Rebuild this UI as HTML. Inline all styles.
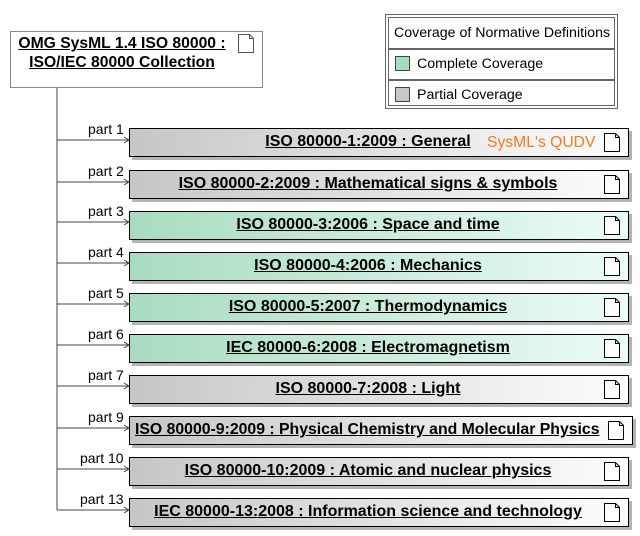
<!DOCTYPE html>
<html><head><meta charset="utf-8"><style>
body{margin:0;width:640px;height:536px;background:#fff;position:relative;overflow:hidden;font-family:"Liberation Sans",Arial,sans-serif;}
.b{position:absolute;box-sizing:border-box;border:1px solid #000;height:29px;box-shadow:3px 3px 0 #b4b4b4;}
.g{background:linear-gradient(to right,#c6c6c6,#fdfdfd);}
.c{background:linear-gradient(to right,#a8dcbf,#ebfcf9);}
.t{position:absolute;top:4px;font-weight:bold;font-size:16px;text-decoration:underline;white-space:nowrap;color:#000;}
.p{position:absolute;font-size:14px;color:#000;}
.ic{position:absolute;width:16px;height:19px;}
</style></head><body>
<svg width="640" height="536" style="position:absolute;left:0;top:0">
<line x1="57" y1="87" x2="57" y2="510" stroke="#444" stroke-width="1"/>
<g stroke="#444" stroke-width="1" fill="none">
<path d="M57 140H129M124 137L129 140L124 143"/>
<path d="M57 182H129M124 179L129 182L124 185"/>
<path d="M57 222H129M124 219L129 222L124 225"/>
<path d="M57 263H129M124 260L129 263L124 266"/>
<path d="M57 304H129M124 301L129 304L124 307"/>
<path d="M57 345H129M124 342L129 345L124 348"/>
<path d="M57 386H129M124 383L129 386L124 389"/>
<path d="M57 428H129M124 425L129 428L124 431"/>
<path d="M57 469H129M124 466L129 469L124 472"/>
<path d="M57 510H129M124 507L129 510L124 513"/>
</g>
</svg>
<div style="position:absolute;left:10px;top:31px;width:253px;height:57px;box-sizing:border-box;border:1px solid #888;background:#fff;"></div>
<div style="position:absolute;left:12px;top:34px;width:220px;text-align:center;font-weight:bold;font-size:15.7px;line-height:19px;text-decoration:underline;white-space:nowrap;">OMG SysML 1.4 ISO 80000 :<br>ISO/IEC 80000 Collection</div>
<svg class="ic" style="left:238px;top:34px" viewBox="0 0 16 19"><path d="M0.5 0.5H11.5L15.5 4.5V18.5H0.5Z" fill="#fff" stroke="#555"/><path d="M11.5 0.5V4.5H15.5" fill="none" stroke="#555"/></svg>

<div style="position:absolute;left:385px;top:14px;width:233px;height:95px;box-sizing:border-box;border:1px solid #666;padding:2px;">
<div style="border:1px solid #666;height:89px;box-sizing:border-box;font-size:14.2px;white-space:nowrap;">
<div style="height:30px;line-height:30px;padding-left:5px;border-bottom:2px solid #666;">Coverage of Normative Definitions</div>
<div style="height:29px;line-height:29px;padding-left:6px;border-bottom:2px solid #666;"><span style="display:inline-block;width:13px;height:13px;background:#a8dcbf;border:1px solid #444;vertical-align:-3px;margin-right:7px"></span>Complete Coverage</div>
<div style="height:26px;line-height:28px;padding-left:6px;"><span style="display:inline-block;width:13px;height:13px;background:#c8c8c8;border:1px solid #444;vertical-align:-3px;margin-right:7px"></span>Partial Coverage</div>
</div></div>

<div class="p" style="left:88px;top:121px">part 1</div>
<div class="p" style="left:88px;top:163px">part 2</div>
<div class="p" style="left:88px;top:203px">part 3</div>
<div class="p" style="left:88px;top:244px">part 4</div>
<div class="p" style="left:88px;top:285px">part 5</div>
<div class="p" style="left:88px;top:326px">part 6</div>
<div class="p" style="left:88px;top:367px">part 7</div>
<div class="p" style="left:88px;top:409px">part 9</div>
<div class="p" style="left:80px;top:450px">part 10</div>
<div class="p" style="left:80px;top:491px">part 13</div>

<div class="b g" style="left:129px;top:128px;width:500px"><div class="t" style="left:0;width:476px;text-align:center">ISO 80000-1:2009 : General</div><div style="position:absolute;left:357px;top:5px;font-size:15.7px;color:#f77a1e;">SysML's QUDV</div></div>
<div class="b g" style="left:129px;top:170px;width:500px"><div class="t" style="left:0;width:476px;text-align:center">ISO 80000-2:2009 : Mathematical signs &amp; symbols</div></div>
<div class="b c" style="left:129px;top:211px;width:500px"><div class="t" style="left:0;width:476px;text-align:center">ISO 80000-3:2006 : Space and time</div></div>
<div class="b c" style="left:129px;top:252px;width:500px"><div class="t" style="left:0;width:476px;text-align:center">ISO 80000-4:2006 : Mechanics</div></div>
<div class="b c" style="left:129px;top:293px;width:500px"><div class="t" style="left:0;width:476px;text-align:center">ISO 80000-5:2007 : Thermodynamics</div></div>
<div class="b c" style="left:129px;top:334px;width:500px"><div class="t" style="left:0;width:476px;text-align:center">IEC 80000-6:2008 : Electromagnetism</div></div>
<div class="b g" style="left:129px;top:375px;width:500px"><div class="t" style="left:0;width:476px;text-align:center">ISO 80000-7:2008 : Light</div></div>
<div class="b g" style="left:129px;top:416px;width:504px"><div class="t" style="left:5px;font-size:15.8px">ISO 80000-9:2009 : Physical Chemistry and Molecular Physics</div></div>
<div class="b g" style="left:129px;top:457px;width:500px"><div class="t" style="left:0;width:476px;text-align:center">ISO 80000-10:2009 : Atomic and nuclear physics</div></div>
<div class="b g" style="left:129px;top:498px;width:500px"><div class="t" style="left:0;width:476px;text-align:center">IEC 80000-13:2008 : Information science and technology</div></div>

<svg class="ic" style="left:604px;top:133px" viewBox="0 0 16 19"><path d="M0.5 0.5H11.5L15.5 4.5V18.5H0.5Z" fill="#fff" stroke="#000"/><path d="M11.5 0.5V4.5H15.5" fill="none" stroke="#000"/></svg>
<svg class="ic" style="left:604px;top:175px" viewBox="0 0 16 19"><path d="M0.5 0.5H11.5L15.5 4.5V18.5H0.5Z" fill="#fff" stroke="#000"/><path d="M11.5 0.5V4.5H15.5" fill="none" stroke="#000"/></svg>
<svg class="ic" style="left:604px;top:216px" viewBox="0 0 16 19"><path d="M0.5 0.5H11.5L15.5 4.5V18.5H0.5Z" fill="#fff" stroke="#000"/><path d="M11.5 0.5V4.5H15.5" fill="none" stroke="#000"/></svg>
<svg class="ic" style="left:604px;top:257px" viewBox="0 0 16 19"><path d="M0.5 0.5H11.5L15.5 4.5V18.5H0.5Z" fill="#fff" stroke="#000"/><path d="M11.5 0.5V4.5H15.5" fill="none" stroke="#000"/></svg>
<svg class="ic" style="left:604px;top:298px" viewBox="0 0 16 19"><path d="M0.5 0.5H11.5L15.5 4.5V18.5H0.5Z" fill="#fff" stroke="#000"/><path d="M11.5 0.5V4.5H15.5" fill="none" stroke="#000"/></svg>
<svg class="ic" style="left:604px;top:339px" viewBox="0 0 16 19"><path d="M0.5 0.5H11.5L15.5 4.5V18.5H0.5Z" fill="#fff" stroke="#000"/><path d="M11.5 0.5V4.5H15.5" fill="none" stroke="#000"/></svg>
<svg class="ic" style="left:604px;top:380px" viewBox="0 0 16 19"><path d="M0.5 0.5H11.5L15.5 4.5V18.5H0.5Z" fill="#fff" stroke="#000"/><path d="M11.5 0.5V4.5H15.5" fill="none" stroke="#000"/></svg>
<svg class="ic" style="left:608px;top:421px" viewBox="0 0 16 19"><path d="M0.5 0.5H11.5L15.5 4.5V18.5H0.5Z" fill="#fff" stroke="#000"/><path d="M11.5 0.5V4.5H15.5" fill="none" stroke="#000"/></svg>
<svg class="ic" style="left:604px;top:462px" viewBox="0 0 16 19"><path d="M0.5 0.5H11.5L15.5 4.5V18.5H0.5Z" fill="#fff" stroke="#000"/><path d="M11.5 0.5V4.5H15.5" fill="none" stroke="#000"/></svg>
<svg class="ic" style="left:604px;top:503px" viewBox="0 0 16 19"><path d="M0.5 0.5H11.5L15.5 4.5V18.5H0.5Z" fill="#fff" stroke="#000"/><path d="M11.5 0.5V4.5H15.5" fill="none" stroke="#000"/></svg>
</body></html>
